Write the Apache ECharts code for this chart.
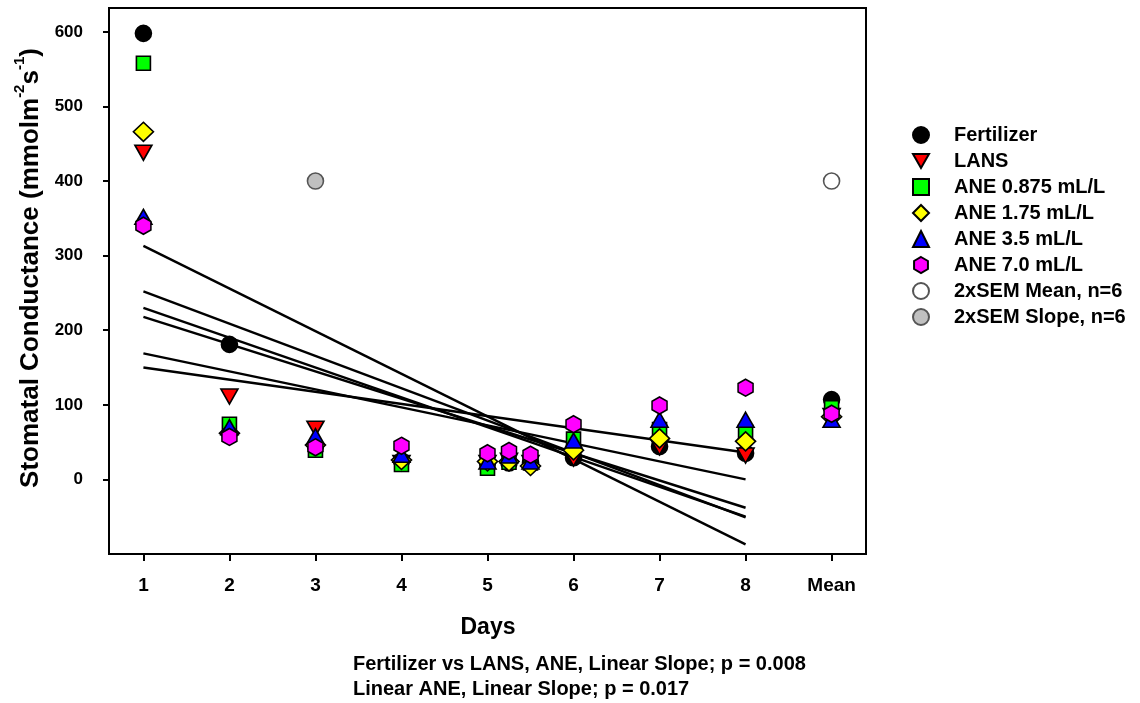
<!DOCTYPE html>
<html>
<head>
<meta charset="utf-8">
<script src="https://cdn.jsdelivr.net/npm/echarts@6/dist/echarts.min.js"></script>
<style>html,body{margin:0;padding:0;background:#fff;}#c{width:1140px;height:703px;}</style>
</head>
<body>
<div id="c"></div>
<script>
// ---- data ----
const days = [1, 2, 3, 4, 5, 5.25, 5.5, 6, 7, 8, 9];
const tickValues = [1, 2, 3, 4, 5, 6, 7, 8, 9];
const tickLabels = ['1', '2', '3', '4', '5', '6', '7', '8', 'Mean'];
const yTicks = [0, 100, 200, 300, 400, 500, 600];

const fertilizer = [598, 181, 45, 25, 22, 22, 22, 29, 44, 35, 107];
const lans       = [438, 111, 68, 22, 22, 25, 22, 28, 43, 32, 85];
const ane0875    = [558, 74, 39, 20, 15, 23, 22, 54, 67, 63, 96];
const ane175     = [466, 62, 46, 26, 24, 24, 18, 39, 55, 51, 84];
const ane35      = [352, 70, 58, 33, 24, 32, 24, 52, 80, 80, 80];
const ane70      = [340, 57, 43, 45, 35, 38, 33, 74, 99, 123, 88];

const semMean  = [[9, 400]];
const semSlope = [[3, 400]];

const fitDays  = [1, 8];
const fitStart = [313, 252, 230, 218, 169, 150];
const fitEnd   = [-87, -51, -50, -38, 0, 36];

// ---- chart ----
const FONT = '"Liberation Sans", Arial, sans-serif';
const hexagon = 'path://M0,-1 L0.866,-0.5 L0.866,0.5 L0,1 L-0.866,0.5 L-0.866,-0.5 Z';
const downTri = 'path://M0,0 L2,0 L1,1.75 Z';

function pts(vals) { return vals.map((v, i) => [days[i], v]); }

const scatterDefs = [
  { name: 'Fertilizer', data: pts(fertilizer), symbol: 'circle', size: 16, color: '#000000' },
  { name: 'LANS', data: pts(lans), symbol: downTri, size: [17, 15], color: '#ff0000' },
  { name: 'ANE 0.875 mL/L', data: pts(ane0875), symbol: 'rect', size: 14, color: '#00ff00' },
  { name: 'ANE 1.75 mL/L', data: pts(ane175), symbol: 'diamond', size: [20, 19], color: '#ffff00' },
  { name: 'ANE 3.5 mL/L', data: pts(ane35), symbol: 'triangle', size: [17, 15], color: '#0000ff' },
  { name: 'ANE 7.0 mL/L', data: pts(ane70), symbol: hexagon, size: [15, 17], color: '#ff00ff' },
  { name: '2xSEM Mean, n=6', data: semMean, symbol: 'circle', size: 16, color: '#ffffff', border: '#555' },
  { name: '2xSEM Slope, n=6', data: semSlope, symbol: 'circle', size: 16, color: '#c0c0c0', border: '#555' }
];

const series = [];
fitStart.forEach((s, i) => {
  series.push({
    type: 'line', name: 'fit' + i, silent: true, symbol: 'none',
    data: [[fitDays[0], s], [fitDays[1], fitEnd[i]]],
    lineStyle: { color: '#000', width: 2.4 }, z: 1
  });
});
scatterDefs.forEach(d => {
  series.push({
    type: 'scatter', name: d.name, data: d.data, symbol: d.symbol, symbolSize: d.size,
    itemStyle: { color: d.color, borderColor: d.border || '#000', borderWidth: 1.6, opacity: 1 },
    z: 3
  });
});

const chart = echarts.init(document.getElementById('c'), null, { renderer: 'canvas' });
chart.setOption({
  animation: false,
  backgroundColor: '#fff',
  grid: { left: 109, right: 274, top: 8, bottom: 149, show: true, borderColor: '#000', borderWidth: 2 },
  xAxis: {
    type: 'value', min: 0.6, max: 9.4,
    axisLine: { show: true, onZero: false, lineStyle: { color: '#000', width: 2 } },
    axisTick: { show: true, customValues: tickValues, length: 7, lineStyle: { color: '#000', width: 2 } },
    axisLabel: {
      customValues: tickValues, margin: 22,
      formatter: v => tickLabels[tickValues.indexOf(v)] || '',
      color: '#000', fontFamily: FONT, fontWeight: 'bold', fontSize: 19
    },
    splitLine: { show: false }
  },
  yAxis: {
    type: 'value', min: -100, max: 632,
    axisLine: { show: true, onZero: false, lineStyle: { color: '#000', width: 2 } },
    axisTick: { show: true, customValues: yTicks, length: 6, lineStyle: { color: '#000', width: 2 } },
    axisLabel: {
      customValues: yTicks, margin: 26,
      color: '#000', fontFamily: FONT, fontWeight: 'bold', fontSize: 17
    },
    splitLine: { show: false }
  },
  legend: {
    orient: 'vertical', left: 907, top: 120,
    data: scatterDefs.map(d => d.name),
    itemWidth: 16, itemHeight: 16, itemGap: 6,
    selectedMode: false,
    textStyle: { color: '#000', fontFamily: FONT, fontWeight: 'bold', fontSize: 20, padding: [0, 0, 0, 20], lineHeight: 20 }
  },
  graphic: [
    {
      type: 'text', x: 28, y: 268, rotation: Math.PI / 2,
      style: {
        text: '{m|Stomatal Conductance (mmolm}{s|-2}{m|s}{s|-1}{m|)}',
        align: 'center', verticalAlign: 'middle',
        rich: {
          m: { fontFamily: FONT, fontWeight: 'bold', fontSize: 26, fill: '#000', verticalAlign: 'bottom', lineHeight: 32 },
          s: { fontFamily: FONT, fontWeight: 'bold', fontSize: 15, fill: '#000', verticalAlign: 'top', lineHeight: 32 }
        }
      }
    },
    {
      type: 'text', x: 488, y: 628,
      style: { text: 'Days', align: 'center', verticalAlign: 'middle', fontFamily: FONT, fontWeight: 'bold', fontSize: 23, fill: '#000' }
    },
    {
      type: 'text', x: 353, y: 664,
      style: { text: 'Fertilizer vs LANS, ANE, Linear Slope; p = 0.008', align: 'left', verticalAlign: 'middle', fontFamily: FONT, fontWeight: 'bold', fontSize: 20, fill: '#000' }
    },
    {
      type: 'text', x: 353, y: 689,
      style: { text: 'Linear ANE, Linear Slope; p = 0.017', align: 'left', verticalAlign: 'middle', fontFamily: FONT, fontWeight: 'bold', fontSize: 20, fill: '#000' }
    }
  ],
  series: series
});
</script>
</body>
</html>
